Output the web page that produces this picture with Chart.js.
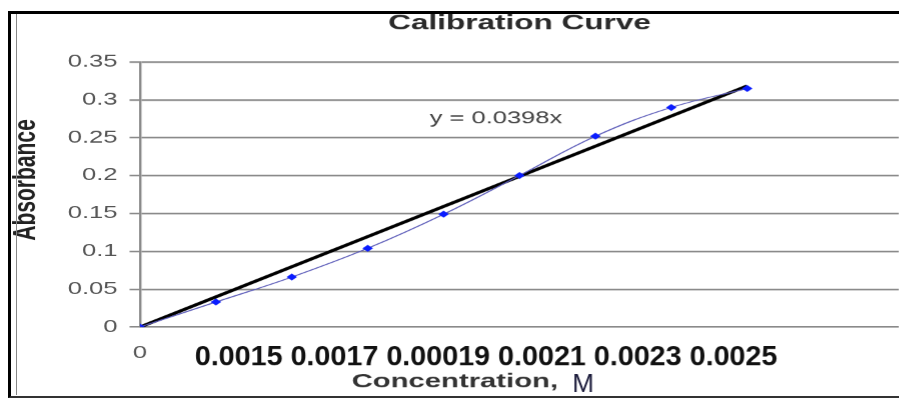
<!DOCTYPE html>
<html>
<head>
<meta charset="utf-8">
<script src="https://cdn.jsdelivr.net/npm/chart.js@4.4.1/dist/chart.umd.min.js"></script>
<style>
  html, body { margin: 0; padding: 0; background: #fff; overflow: hidden; width: 899px; height: 402px; }
  /* the original picture was stretched sideways, so the chart is drawn narrow and widened */
  #stretch { position: absolute; left: 0; top: 0; width: 603px; height: 402px; transform: scaleX(1.5); transform-origin: 0 0; }
  #frame { position: absolute; left: 8px; top: 11px; width: 900px; height: 382px; border-left: 3px solid #000; border-top: 3px solid #000; border-bottom: 2px solid #333; pointer-events: none; }
  #inner { position: absolute; left: 16px; top: 14px; width: 1px; height: 381px; background: #888; pointer-events: none; }
</style>
</head>
<body>
<div id="stretch"><canvas id="calibChart"></canvas></div>
<div id="frame"></div>
<div id="inner"></div>
<script>
  const STRETCH = 1.5;

  // data
  const sampleX = [0, 1, 2, 3, 4, 5, 6, 7, 8];
  const absorbance = [0, 0.033, 0.066, 0.104, 0.149, 0.2, 0.252, 0.29, 0.315];
  const trendX = [0, 8];
  const trendY = [0, 0.3184];
  const equation = "y = 0.0398x";
  const concLabels = ["0.0015", "0.0017", "0.00019", "0.0021", "0.0023", "0.0025"];
  const xTickValues = [0];
  const xTickText = ["0"];

  // texts pasted on top of the chart (labels, equation, axis name)
  const overlay = {
    id: 'overlay',
    afterDraw(chart) {
      const { ctx, chartArea, scales: { x, y } } = chart;
      ctx.save();

      ctx.font = '17px "Liberation Sans", Arial';
      ctx.fillStyle = '#444';
      ctx.textAlign = 'center';
      ctx.textBaseline = 'middle';
      ctx.fillText(equation, x.getPixelForValue(4.69), y.getPixelForValue(0.275));

      ctx.font = 'bold 19.5px "Liberation Sans", Arial';
      ctx.fillStyle = '#333';
      ctx.textAlign = 'left';
      ctx.textBaseline = 'alphabetic';
      ctx.fillText('Concentration,', chartArea.left + 141, 387);

      // these were not stretched, so undo the widening
      ctx.save();
      ctx.translate(chartArea.left + 36.5, 365);
      ctx.scale(1 / STRETCH, 1);
      ctx.font = 'bold 28.7px "Liberation Sans", Arial';
      ctx.fillStyle = '#111';
      ctx.fillText(concLabels.join(' '), 0, 0);
      ctx.restore();

      ctx.save();
      ctx.translate(chartArea.left + 288, 392);
      ctx.scale(1 / STRETCH, 1);
      ctx.font = '26px "Liberation Sans", Arial';
      ctx.fillStyle = '#1a1a3a';
      ctx.fillText('M', 0, 0);
      ctx.restore();

      ctx.restore();
    }
  };

  const ctx = document.getElementById('calibChart').getContext('2d');
  const calibChart = new Chart(ctx, {
    type: 'line',
    data: {
      datasets: [
        {
          label: 'Absorbance',
          data: sampleX.map((v, i) => ({ x: v, y: absorbance[i] })),
          borderColor: '#5a5ab8',
          borderWidth: 1,
          tension: 0.4,
          pointStyle: 'rectRot',
          pointRadius: 3.5,
          pointBackgroundColor: '#0a1cff',
          pointBorderColor: '#0a1cff',
          pointBorderWidth: 0
        },
        {
          label: 'Trend',
          data: trendX.map((v, i) => ({ x: v, y: trendY[i] })),
          borderColor: '#000',
          borderWidth: 3,
          pointRadius: 0,
          tension: 0
        }
      ]
    },
    options: {
      responsive: true,
      maintainAspectRatio: false,
      animation: false,
      devicePixelRatio: 1.5,
      layout: { padding: 0 },
      plugins: {
        legend: { display: false },
        tooltip: { enabled: false },
        title: {
          display: true,
          text: 'Calibration Curve',
          fullSize: false,
          color: '#2a2a2a',
          font: { family: '"Liberation Sans", Arial', size: 21, weight: 'bold' },
          padding: { top: 11, bottom: 25.8 }
        }
      },
      scales: {
        x: {
          type: 'linear',
          min: 0,
          max: 10,
          afterBuildTicks: s => { s.ticks = xTickValues.map(v => ({ value: v })); },
          afterFit: s => { s.height = 75; },
          grid: { display: false, drawTicks: false },
          border: { display: false },
          ticks: {
            padding: 16,
            color: '#555',
            font: { family: '"Liberation Sans", Arial', size: 17 },
            callback: (v, i) => xTickText[i]
          }
        },
        y: {
          min: 0,
          max: 0.35,
          afterFit: s => { s.width = 93.3; },
          grid: { color: '#8a8a8a', lineWidth: 1.6, tickLength: 7 },
          border: { color: '#8a8a8a', width: 1.6 },
          ticks: {
            stepSize: 0.05,
            padding: 8,
            color: '#555',
            font: { family: '"Liberation Sans", Arial', size: 17 },
            callback: v => String(+v.toFixed(2))
          },
          title: {
            display: true,
            text: '     Absorbance',
            color: '#222',
            font: { family: '"Liberation Sans", Arial', size: 21, weight: 'bold' },
            padding: { top: 5, bottom: 0 }
          }
        }
      }
    },
    plugins: [overlay]
  });
</script>
</body>
</html>
